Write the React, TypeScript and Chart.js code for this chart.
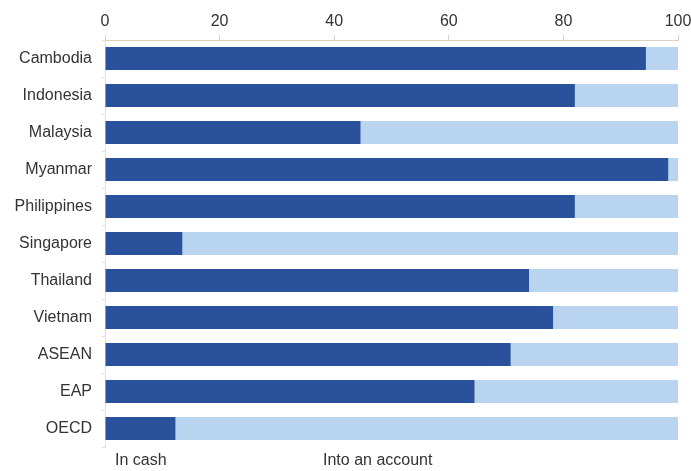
import React, { useEffect, useRef } from "react";
import { Chart, registerables } from "chart.js";

Chart.register(...registerables);

const categories = [
  "Cambodia",
  "Indonesia",
  "Malaysia",
  "Myanmar",
  "Philippines",
  "Singapore",
  "Thailand",
  "Vietnam",
  "ASEAN",
  "EAP",
  "OECD",
];

// Share of payments received in cash (%)
const inCash = [94.4, 82.0, 44.6, 98.3, 82.0, 13.5, 74.0, 78.2, 70.8, 64.5, 12.3];
// Remaining share received into an account (%)
const intoAccount = inCash.map((v) => +(100 - v).toFixed(1));

const seriesLabels = ["In cash", "Into an account"];
const xTicks = [0, 20, 40, 60, 80, 100];

const DARK = "#2a519b";
const LIGHT = "#b8d4ee";
const FONT = "'Liberation Sans', Arial, sans-serif";

// Plain text labels below the plot, one per series
const bottomLabels = {
  id: "bottomLabels",
  afterDraw(chart: any) {
    const { ctx, chartArea } = chart;
    const offsets = [10, 218];
    ctx.save();
    ctx.font = `16px ${FONT}`;
    ctx.fillStyle = "#333";
    ctx.textAlign = "left";
    ctx.textBaseline = "middle";
    seriesLabels.forEach((t, i) => {
      ctx.fillText(t, chartArea.left + offsets[i], chartArea.bottom + 14);
    });
    ctx.restore();
  },
};

export default function App() {
  const ref = useRef<HTMLCanvasElement | null>(null);

  useEffect(() => {
    if (!ref.current) return;
    const chart = new Chart(ref.current, {
      type: "bar",
      data: {
        labels: categories,
        datasets: [
          {
            label: seriesLabels[0],
            data: inCash,
            backgroundColor: DARK,
            barPercentage: 0.62,
            categoryPercentage: 1,
          },
          {
            label: seriesLabels[1],
            data: intoAccount,
            backgroundColor: LIGHT,
            barPercentage: 0.62,
            categoryPercentage: 1,
          },
        ],
      },
      options: {
        indexAxis: "y",
        animation: false,
        responsive: true,
        maintainAspectRatio: false,
        layout: { padding: { top: 0, right: 13, bottom: 24, left: 0 } },
        plugins: {
          legend: { display: false },
          tooltip: { enabled: false },
        },
        scales: {
          x: {
            position: "top",
            stacked: true,
            min: 0,
            max: 100,
            afterBuildTicks: (scale: any) => {
              scale.ticks = xTicks.map((v) => ({ value: v }));
            },
            afterFit: (scale: any) => {
              scale.height = 40;
              // let the last label run to the canvas edge
              scale.paddingRight = 0;
            },
            ticks: {
              color: "#333",
              font: { family: FONT, size: 16 },
              padding: 4,
              maxRotation: 0,
            },
            grid: {
              drawOnChartArea: false,
              drawTicks: true,
              tickLength: 5,
              color: "#d4d4c4",
            },
            border: { display: true, color: "#d4d4c4" },
          },
          y: {
            stacked: true,
            afterFit: (scale: any) => {
              scale.width = 105;
            },
            ticks: {
              color: "#333",
              font: { family: FONT, size: 16 },
              padding: 10,
            },
            grid: {
              drawOnChartArea: false,
              drawTicks: true,
              tickLength: 3,
              color: "#e2e2d4",
            },
            border: { display: true, color: "#e2e2d4" },
          },
        },
      },
      plugins: [bottomLabels],
    });
    return () => chart.destroy();
  }, []);

  return (
    <div
      style={{
        position: "absolute",
        left: 0,
        top: 0,
        width: 691,
        height: 471,
        background: "#fff",
      }}
    >
      <canvas ref={ref} />
    </div>
  );
}
